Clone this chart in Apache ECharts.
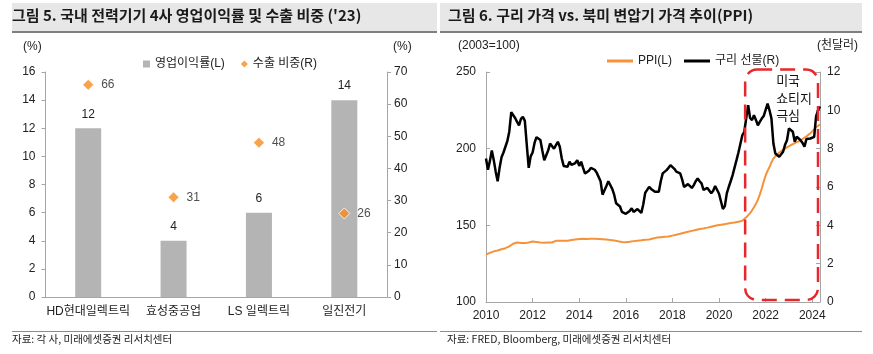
<!DOCTYPE html>
<html>
<head>
<meta charset="utf-8">
<script src="https://cdn.jsdelivr.net/npm/echarts@6/dist/echarts.min.js"></script>
<style>
  html, body { margin: 0; padding: 0; background: #fff; }
  #main { width: 873px; height: 354px; }
</style>
</head>
<body>
<div id="main"></div>
<script>
// 그림 5 data
var companies = ['HD현대일렉트릭', '효성중공업', 'LS 일렉트릭', '일진전기'];
var opMargin = [12, 4, 6, 14];        // 영업이익률(L), %
var exportShare = [66, 31, 48, 26];   // 수출 비중(R), %

// 그림 6 data: monthly, 2010-01 .. 2024-05
var startYear = 2010, startMonth = 1;
var ppi = [
  131.0,131.5,132.0,132.5,133.0,133.3,133.6,134.0,134.4,134.8,135.1,135.8,
  136.3,137.2,138.0,138.6,138.8,138.7,138.5,138.4,138.4,138.4,138.8,139.2,
  139.4,139.3,139.1,138.9,138.8,138.8,138.7,138.8,138.8,138.8,138.8,139.3,
  139.9,139.9,139.9,139.9,139.9,140.0,140.0,140.2,140.4,140.6,140.8,141.0,
  141.1,141.2,141.2,141.1,141.1,141.2,141.2,141.2,141.2,141.2,141.1,141.0,
  140.9,140.8,140.7,140.6,140.5,140.3,140.1,139.8,139.6,139.4,139.2,139.0,
  139.0,139.1,139.3,139.5,139.7,139.8,140.0,140.1,140.2,140.4,140.6,140.8,
  140.8,141.0,141.4,141.8,142.0,142.2,142.3,142.4,142.5,142.6,142.7,143.0,
  143.3,143.6,143.9,144.2,144.5,144.9,145.2,145.5,145.8,146.1,146.4,146.7,
  147.0,147.3,147.6,147.8,148.0,148.2,148.5,148.8,149.1,149.4,149.7,150.0,
  150.2,150.4,150.6,150.8,151.0,151.3,151.5,151.6,151.8,152.2,152.4,152.6,
  153.0,154.0,155.2,156.5,158.0,159.8,161.8,164.0,166.6,170.0,174.0,178.5,
  182.5,185.5,188.0,191.0,193.5,195.0,196.3,197.5,198.2,199.2,200.0,200.8,
  201.6,202.3,203.0,203.6,204.2,204.8,205.5,206.3,207.2,208.0,209.0,210.0,
  211.2,212.6,214.0,214.8,215.8
];
var copper = [
  7.49,6.90,7.35,7.90,7.40,6.80,6.30,7.00,7.55,7.80,8.10,8.40,
  8.90,9.90,9.85,9.60,9.40,9.22,9.55,9.66,9.45,8.20,7.00,7.60,
  7.80,8.30,8.60,8.62,8.45,7.90,7.40,7.50,7.90,8.27,8.20,8.00,
  8.00,8.36,8.10,7.50,7.10,7.00,7.06,7.32,7.15,7.10,7.25,7.40,
  7.10,7.32,7.00,6.70,6.62,6.85,7.00,7.06,6.90,6.75,6.71,6.30,
  5.60,5.55,6.05,6.30,6.36,5.90,5.60,5.15,5.05,4.98,4.70,4.63,
  4.60,4.55,4.75,4.89,4.70,4.65,4.85,4.80,4.65,5.10,5.70,5.85,
  6.01,5.90,5.93,5.75,5.70,5.75,6.30,6.71,6.80,6.88,7.00,7.14,
  7.05,6.95,6.80,6.75,6.71,6.40,6.00,5.93,6.15,6.19,5.95,6.10,
  6.30,6.45,6.30,6.19,5.85,5.84,5.95,5.90,5.67,5.80,6.05,6.10,
  5.65,5.58,4.85,5.00,5.67,6.00,6.30,6.62,6.54,7.40,7.80,7.84,
  8.70,8.88,8.97,10.27,9.60,9.49,9.75,9.50,9.22,9.40,9.57,9.70,
  9.75,10.35,10.00,9.57,8.27,7.75,7.65,7.58,7.65,7.84,8.20,8.44,
  9.05,8.95,8.88,8.36,8.62,8.55,8.44,8.30,8.10,8.50,8.53,8.53,
  8.53,8.62,9.70,10.00,10.20
];
var shortageStart = '2021-04'; // 미국 쇼티지 극심 구간 시작

var months = [];
for (var i = 0; i < ppi.length; i++) {
  var m = startMonth - 1 + i;
  var y = startYear + Math.floor(m / 12);
  var mm = (m % 12) + 1;
  months.push(y + '-' + (mm < 10 ? '0' + mm : mm));
}

var FONT = "'Liberation Sans', 'Noto Sans CJK KR', sans-serif";
var KFONT = "'Noto Sans CJK KR', sans-serif";
var axisGray = '#A6A6A6';
var orange = '#F68B1F';
var labelStyle = { color: '#222', fontSize: 12, fontFamily: FONT };

var chart = echarts.init(document.getElementById('main'));

function yearTick(idx) {
  return idx % 24 === 0;
}

var option = {
  animation: false,
  textStyle: { fontFamily: FONT },
  legend: [
    {
      left: 138, top: 53,
      itemWidth: 7, itemHeight: 7, itemGap: 16,
      textStyle: { fontSize: 12, color: '#222', fontFamily: FONT },
      data: [
        { name: '영업이익률(L)', icon: 'rect' },
        { name: '수출 비중(R)', icon: 'diamond', itemStyle: { borderWidth: 0 } }
      ]
    },
    {
      left: 602, top: 50,
      itemWidth: 26, itemHeight: 3, itemGap: 12,
      icon: 'rect',
      textStyle: { fontSize: 12, color: '#222', fontFamily: FONT },
      data: ['PPI(L)', '구리 선물(R)']
    }
  ],
  grid: [
    { left: 45.5, top: 72, width: 341.5, height: 225 },
    { left: 486, top: 72, width: 334, height: 230 }
  ],
  xAxis: [
    {
      type: 'category', gridIndex: 0, data: companies,
      axisLine: { lineStyle: { color: axisGray } },
      axisTick: { length: 4, lineStyle: { color: axisGray } },
      axisLabel: Object.assign({ margin: 9, interval: 0 }, labelStyle)
    },
    {
      type: 'category', gridIndex: 1, data: months, boundaryGap: false,
      axisLine: { lineStyle: { color: axisGray } },
      axisTick: { inside: true, length: 4, interval: yearTick, lineStyle: { color: axisGray } },
      axisLabel: Object.assign({
        margin: 8, interval: yearTick,
        formatter: function (v) { return v.slice(0, 4); }
      }, labelStyle)
    }
  ],
  yAxis: [
    {
      type: 'value', gridIndex: 0, min: 0, max: 16, interval: 2,
      axisLine: { show: true, lineStyle: { color: axisGray } },
      axisTick: { show: true, length: 4, lineStyle: { color: axisGray } },
      splitLine: { show: false },
      axisLabel: Object.assign({ margin: 10 }, labelStyle)
    },
    {
      type: 'value', gridIndex: 0, position: 'right', min: 0, max: 70, interval: 10,
      axisLine: { show: true, lineStyle: { color: axisGray } },
      axisTick: { show: true, length: 4, lineStyle: { color: axisGray } },
      splitLine: { show: false },
      axisLabel: Object.assign({ margin: 7 }, labelStyle)
    },
    {
      type: 'value', gridIndex: 1, min: 100, max: 250, interval: 50,
      axisLine: { show: true, lineStyle: { color: axisGray } },
      axisTick: { show: true, inside: true, length: 4, lineStyle: { color: axisGray } },
      splitLine: { show: false },
      axisLabel: Object.assign({ margin: 10 }, labelStyle)
    },
    {
      type: 'value', gridIndex: 1, position: 'right', min: 0, max: 12, interval: 2,
      axisLine: { show: true, lineStyle: { color: axisGray } },
      axisTick: { show: true, inside: true, length: 4, lineStyle: { color: axisGray } },
      splitLine: { show: false },
      axisLabel: Object.assign({ margin: 7 }, labelStyle)
    }
  ],
  series: [
    {
      name: '영업이익률(L)', type: 'bar', xAxisIndex: 0, yAxisIndex: 0,
      data: opMargin, barWidth: 26,
      itemStyle: { color: '#B4B4B4' },
      label: { show: true, position: 'top', distance: 8, color: '#222', fontSize: 12, fontFamily: FONT }
    },
    {
      name: '수출 비중(R)', type: 'scatter', xAxisIndex: 0, yAxisIndex: 1,
      data: exportShare, symbol: 'diamond', symbolSize: 11,
      itemStyle: { color: orange, borderColor: '#fff', borderWidth: 1 },
      label: { show: true, position: 'right', distance: 7, color: '#222', fontSize: 12, fontFamily: FONT },
      z: 5
    },
    {
      name: 'PPI(L)', type: 'line', xAxisIndex: 1, yAxisIndex: 2,
      data: ppi, symbol: 'none', smooth: false,
      lineStyle: { color: '#F5923A', width: 2 },
      itemStyle: { color: '#F5923A' }
    },
    {
      name: '구리 선물(R)', type: 'line', xAxisIndex: 1, yAxisIndex: 3,
      data: copper, symbol: 'none',
      lineStyle: { color: '#000', width: 2.5 },
      itemStyle: { color: '#000' }
    }
  ],
  graphic: [
    // header bands
    { type: 'rect', shape: { x: 12, y: 3, width: 425, height: 28 }, style: { fill: '#E7E7E7' }, silent: true },
    { type: 'rect', shape: { x: 12, y: 31, width: 425, height: 2 }, style: { fill: '#7F7F7F' }, silent: true },
    { type: 'rect', shape: { x: 440, y: 3, width: 422, height: 28 }, style: { fill: '#E7E7E7' }, silent: true },
    { type: 'rect', shape: { x: 440, y: 31, width: 422, height: 2 }, style: { fill: '#7F7F7F' }, silent: true },
    { type: 'text', left: 12, top: 8, style: { text: "그림 5. 국내 전력기기 4사 영업이익률 및 수출 비중 ('23)", font: "bold 15px " + KFONT, fill: '#1a1a1a' } },
    { type: 'text', left: 448, top: 8, style: { text: '그림 6. 구리 가격 vs. 북미 변압기 가격 추이(PPI)', font: "bold 15px " + KFONT, fill: '#1a1a1a' } },
    // axis units
    { type: 'text', left: 23, top: 41, style: { text: '(%)', font: '12px ' + FONT, fill: '#222' } },
    { type: 'text', left: 393, top: 41, style: { text: '(%)', font: '12px ' + FONT, fill: '#222' } },
    { type: 'text', left: 458, top: 40, style: { text: '(2003=100)', font: '12px ' + FONT, fill: '#222' } },
    { type: 'text', left: 817, top: 40, style: { text: '(천달러)', font: '12px ' + FONT, fill: '#222' } },
    // footer
    { type: 'rect', shape: { x: 12, y: 331, width: 425, height: 1 }, style: { fill: '#8C8C8C' }, silent: true },
    { type: 'rect', shape: { x: 440, y: 331, width: 422, height: 1 }, style: { fill: '#8C8C8C' }, silent: true },
    { type: 'text', left: 12, top: 334, style: { text: '자료: 각 사, 미래에셋증권 리서치센터', font: '10.5px ' + KFONT, fill: '#222' } },
    { type: 'text', left: 447, top: 334, style: { text: '자료: FRED, Bloomberg, 미래에셋증권 리서치센터', font: '10.5px ' + KFONT, fill: '#222' } }
  ]
};

chart.setOption(option);

// red dashed box for the shortage period, placed from the axes
var idx0 = months.indexOf(shortageStart);
var x0 = chart.convertToPixel({ xAxisIndex: 1 }, idx0) - 3;
var x1 = chart.convertToPixel({ xAxisIndex: 1 }, months.length - 1) - 2;
var y0 = chart.convertToPixel({ yAxisIndex: 2 }, 250) - 2.5;
var y1 = chart.convertToPixel({ yAxisIndex: 2 }, 100) - 2;
chart.setOption({
  graphic: option.graphic.concat([
    {
      type: 'rect', z: 100, silent: true,
      shape: { x: x0, y: y0, width: x1 - x0, height: y1 - y0, r: 12 },
      style: { fill: 'none', stroke: '#E8262B', lineWidth: 2.5, lineDash: [15, 8] }
    },
    {
      type: 'text', z: 101, left: x0 + 31, top: y0 + 2,
      style: { text: '미국\n쇼티지\n극심', font: '13px ' + KFONT, lineHeight: 17.5, fill: '#111' }
    }
  ])
});
</script>
</body>
</html>
